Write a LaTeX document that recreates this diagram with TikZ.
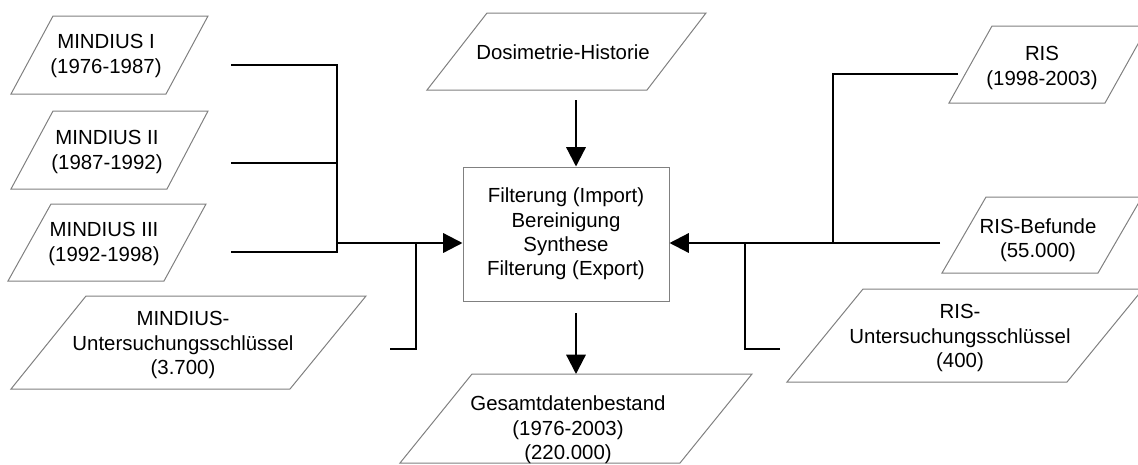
\documentclass[tikz,border=0pt]{standalone}
\usepackage{fontspec}
\setmainfont{Liberation Sans}
\usetikzlibrary{arrows.meta}
\definecolor{edge}{RGB}{128,128,128}
\begin{document}
\begin{tikzpicture}[x=0.75pt,y=-0.75pt,
  txt/.style={align=center,font=\fontsize{15.3}{18.3}\selectfont,inner sep=0pt},
  para/.style={draw=edge,line width=0.75pt,line join=miter},
  conn/.style={line width=1.7pt,line join=miter},
  arr/.style={conn,-{Triangle[length=14.5pt,width=14.5pt]}}]
\useasboundingbox (0,0) rectangle (1138,464);
\clip (0,0) rectangle (1138,464);
% parallelograms
\draw[para] (53,16) -- (208,16) -- (166,94) -- (11,94) -- cycle;
\draw[para] (53,111) -- (208,111) -- (167,189) -- (11,189) -- cycle;
\draw[para] (51,204) -- (206,204) -- (164,281) -- (8,281) -- cycle;
\draw[para] (86,296) -- (366,296) -- (290,389) -- (11,389) -- cycle;
\draw[para] (487,13) -- (706,13) -- (647,90) -- (427,90) -- cycle;
\draw[para] (472,374) -- (752,374) -- (680,463) -- (400,463) -- cycle;
\draw[para] (992,26) -- (1148,26) -- (1105,103) -- (949,103) -- cycle;
\draw[para] (986,197) -- (1142,197) -- (1098,273) -- (942,273) -- cycle;
\draw[para] (863,289) -- (1143,289) -- (1067,382) -- (787,382) -- cycle;
% text nodes
\node[txt] (m1) at (106,56) {MINDIUS I\\(1976-1987)};
\node[txt] (m2) at (107,152) {MINDIUS II\\(1987-1992)};
\node[txt] (m3) at (104,244) {MINDIUS III\\(1992-1998)};
\node[txt] (mu) at (183,345) {MINDIUS-\\Untersuchungsschlüssel\\(3.700)};
\node[txt] (dh) at (563,52) {Dosimetrie-Historie};
\node[txt] (ges) at (568,430) {Gesamtdatenbestand\\(1976-2003)\\(220.000)};
\node[txt] (ris) at (1042,68) {RIS\\(1998-2003)};
\node[txt] (rb) at (1038,240) {RIS-Befunde\\(55.000)};
\node[txt] (ru) at (960,338) {RIS-\\Untersuchungsschlüssel\\(400)};
\node[txt,draw=edge,line width=0.75pt,minimum width=154.5pt,minimum height=100.5pt] (box) at (566,234)
  {Filterung (Import)\\Bereinigung\\Synthese\\Filterung (Export)};
% connector end points
\coordinate (m1e) at (231,65);
\coordinate (m2e) at (231,163);
\coordinate (m3e) at (231,252);
\coordinate (jl) at (337,243);
\coordinate (jl2) at (416,243);
\coordinate (mue) at (390,349);
\coordinate (dhe) at (576,100);
\coordinate (boxs) at (576,313);
\coordinate (gest) at (576,374);
\coordinate (rise) at (958,74);
\coordinate (rbe) at (940,243);
\coordinate (jr) at (833,243);
\coordinate (jr2) at (745,243);
\coordinate (rue) at (780,349);
% left connectors
\draw[conn] (m1e) -| (m3e -| jl) -- (m3e);
\draw[conn] (m2e) -- (m2e -| jl);
\draw[arr] (jl) -- (box.west |- jl);
\draw[conn] (mue) -| (jl2);
% vertical arrows
\draw[arr] (dhe) -- (box.north -| dhe);
\draw[arr] (boxs) -- (gest);
% right connectors
\draw[conn] (rise) -| (jr);
\draw[arr] (rbe) -- (box.east |- rbe);
\draw[conn] (rue) -| (jr2);
\end{tikzpicture}
\end{document}
